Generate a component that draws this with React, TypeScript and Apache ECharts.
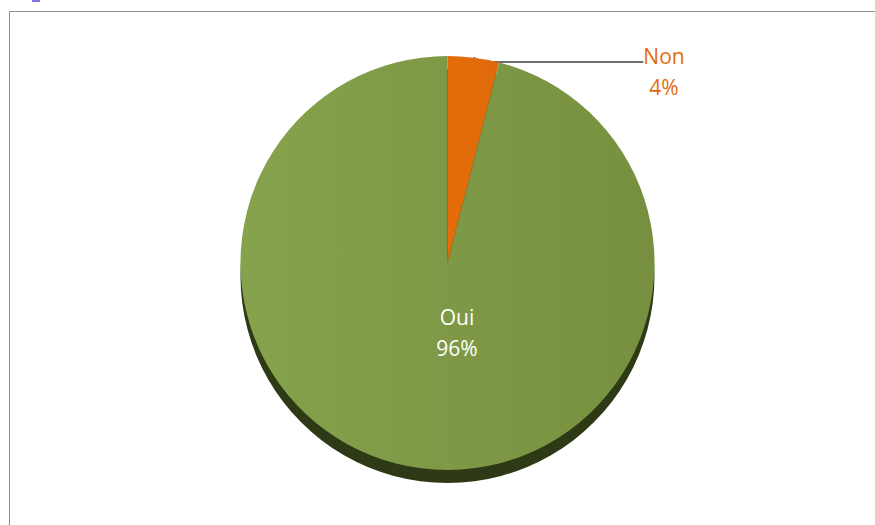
import React, { useEffect, useRef } from "react";
import * as echarts from "echarts";

const categories = ["Non", "Oui"];
const values = [4, 96];
const sliceColors = ["#e46c0a", "#7f9a44"];
const labelColors = ["#e46c0a", "#ffffff"];

export default function App() {
  const ref = useRef<HTMLDivElement>(null);
  useEffect(() => {
    if (!ref.current) return;
    const chart = echarts.init(ref.current, null, { renderer: "svg" });
    const cx = 447.5;
    const cy = 263;
    const r = 207;
    chart.setOption({
      animation: false,
      backgroundColor: "#ffffff",
      graphic: [
        { type: "line", shape: { x1: 9.5, y1: 11.5, x2: 875, y2: 11.5 }, style: { stroke: "#8c8c8c", lineWidth: 1 } },
        { type: "line", shape: { x1: 9.5, y1: 11.5, x2: 9.5, y2: 525 }, style: { stroke: "#8c8c8c", lineWidth: 1 } },
        { type: "rect", shape: { x: 32, y: 0, width: 8, height: 2 }, style: { fill: "#7a78e0" } },
      ],
      series: [
        {
          type: "pie",
          silent: true,
          center: [cx, cy + 13],
          radius: r,
          z: 1,
          label: { show: false },
          labelLine: { show: false },
          data: [{ value: 1, name: "side", itemStyle: { color: "#2e3a16" } }],
        },
        {
          type: "pie",
          center: [cx, cy],
          radius: r,
          startAngle: 90,
          clockwise: true,
          z: 2,
          itemStyle: { borderWidth: 0 },
          data: categories.map((name, i) => ({
            name,
            value: values[i],
            itemStyle: {
              color: {
                type: "linear",
                x: 0, y: 0, x2: 1, y2: 0,
                colorStops:
                  i === 1
                    ? [{ offset: 0, color: "#86a24c" }, { offset: 1, color: "#77903f" }]
                    : [{ offset: 0, color: sliceColors[i] }, { offset: 1, color: "#e06a0a" }],
              },
            },
            label: {
              show: true,
              position: i === 0 ? "outside" : "inside",
              color: labelColors[i],
              fontFamily: "Open Sans",
              fontSize: 21,
              lineHeight: 31,
              align: "center",
              formatter: i === 0 ? "{t| }\n{b}\n{d}%" : "{b}\n{d}%",
              rich: {
                t: { fontSize: 4, lineHeight: 18, height: 18 },
              },
            },
            labelLine: {
              show: i === 0,
              smooth: false,
              length: 4,
              length2: 160,
              lineStyle: { color: "#404040", width: 1.5 },
            },
          })),
          labelLayout: (params: any) =>
            params.dataIndex === 0
              ? { x: 664, y: 62, align: "center", verticalAlign: "middle" }
              : { x: 457, y: 332, align: "center", verticalAlign: "middle" },
        },
      ],
    });
    return () => chart.dispose();
  }, []);
  return (
    <div
      ref={ref}
      style={{ position: "absolute", left: 0, top: 0, width: 875, height: 525 }}
    />
  );
}
